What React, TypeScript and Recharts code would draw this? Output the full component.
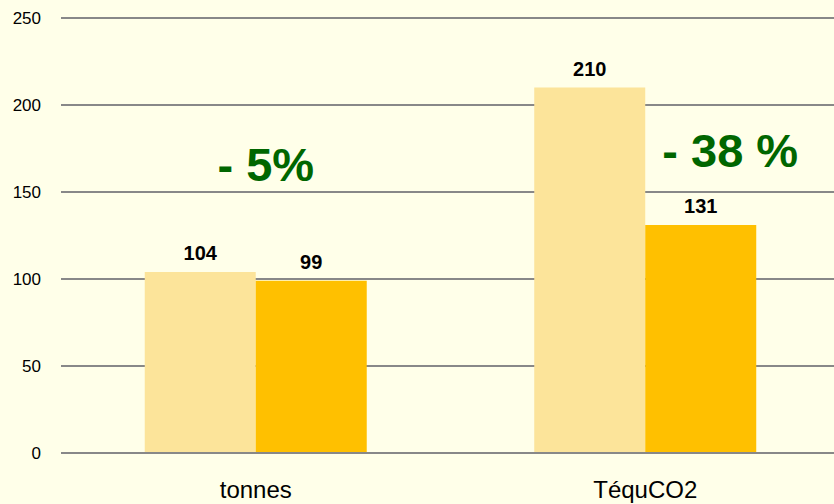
import React from 'react';
import { BarChart, Bar, XAxis, YAxis, CartesianGrid, LabelList, ReferenceDot } from 'recharts';

const categories = ['tonnes', 'TéquCO2'];
const before = [104, 210];
const after = [99, 131];
const yTicks = [0, 50, 100, 150, 200, 250];
const changes = ['- 5%', '- 38 %'];
const changeY = [166, 174];
const changeDx = [10, 85];

const data = categories.map((c, i) => ({ cat: c, before: before[i], after: after[i] }));

const FONT = '"Liberation Sans", Arial, sans-serif';

const ValueLabel = (props: any) => {
  const { x, y, width, value } = props;
  return (
    <text x={x + width / 2} y={y - 12} textAnchor="middle" fontFamily={FONT} fontWeight="bold" fontSize={20} fill="#000">
      {value}
    </text>
  );
};

export default function App() {
  return (
    <div style={{ position: 'absolute', left: 0, top: 0, width: 834, height: 504, overflow: 'hidden', background: '#FFFFE9' }}>
      <BarChart
        width={840}
        height={504}
        data={data}
        margin={{ top: 18, right: 0, bottom: 0, left: 0 }}
        barCategoryGap="21.5%"
        barGap={0}
        style={{ background: '#FFFFE9' }}
      >
        <CartesianGrid vertical={false} stroke="#888888" strokeWidth={2} />
        <XAxis
          dataKey="cat"
          height={51}
          axisLine={{ stroke: '#888888', strokeWidth: 2 }}
          tickLine={false}
          tickMargin={22}
          tick={{ fontFamily: FONT, fontSize: 24, fill: '#000' }}
        />
        <YAxis
          width={61}
          domain={[0, 250]}
          ticks={yTicks}
          axisLine={false}
          tickLine={false}
          tickMargin={14}
          tick={{ fontFamily: FONT, fontSize: 17, fill: '#000' }}
        />
        <Bar dataKey="before" fill="#FCE49A" isAnimationActive={false}>
          <LabelList dataKey="before" content={ValueLabel} />
        </Bar>
        <Bar dataKey="after" fill="#FFC000" isAnimationActive={false}>
          <LabelList dataKey="after" content={ValueLabel} />
        </Bar>
        {categories.map((c, i) => (
          <ReferenceDot
            key={c}
            x={c}
            y={changeY[i]}
            r={0}
            fill="none"
            stroke="none"
            label={(p: any) => {
              const vb = p.viewBox || {};
              const cx = (vb.x ?? 0) + (vb.width ?? 0) / 2;
              const cy = (vb.y ?? 0) + (vb.height ?? 0) / 2;
              return (
                <text x={cx + changeDx[i]} y={cy} textAnchor="middle" dominantBaseline="central" fontFamily={FONT} fontWeight="bold" fontSize={47} fill="#006600">
                  {changes[i]}
                </text>
              );
            }}
          />
        ))}
      </BarChart>
    </div>
  );
}
